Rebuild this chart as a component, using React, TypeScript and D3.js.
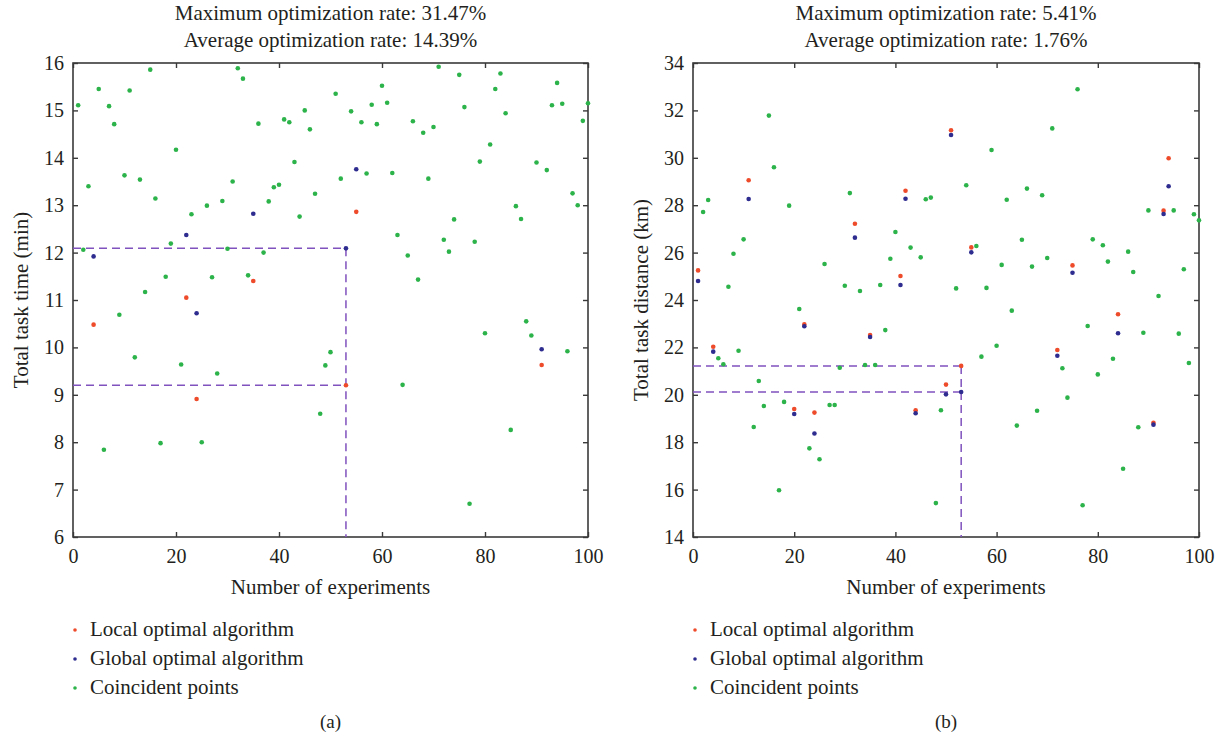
import { useEffect, useRef } from 'react';
import * as d3 from 'd3';

// experiment index 1..100, local optimal algorithm values
const timeLocal = [
  15.11, 12.06, 13.40, 10.48, 15.45, 7.84, 15.09, 14.71, 10.69, 13.63,
  15.42, 9.79, 13.54, 11.17, 15.86, 13.14, 7.98, 11.49, 12.19, 14.17,
  9.64, 11.05, 12.81, 8.91, 8.00, 12.99, 11.48, 9.45, 13.09, 12.08,
  13.50, 15.89, 15.67, 11.52, 11.40, 14.72, 12.00, 13.08, 13.38, 13.43,
  14.81, 14.75, 13.91, 12.76, 15.00, 14.60, 13.24, 8.60, 9.62, 9.90,
  15.35, 13.56, 9.20, 14.98, 12.86, 14.75, 13.67, 15.12, 14.71, 15.52,
  15.16, 13.68, 12.37, 9.21, 11.94, 14.77, 11.43, 14.53, 13.56, 14.65,
  15.92, 12.27, 12.02, 12.70, 15.75, 15.07, 6.70, 12.23, 13.92, 10.30,
  14.28, 15.45, 15.78, 14.94, 8.26, 12.98, 12.71, 10.55, 10.25, 13.90,
  9.63, 13.74, 15.11, 15.58, 15.14, 9.92, 13.25, 13.00, 14.78, 15.15,
];
// [experiment, value] where the global optimal algorithm differs
const timeGlobalDiff = [
  [4, 11.92], [22, 12.37], [24, 10.72], [35, 12.82], [53, 12.09], [55, 13.76], [91, 9.96],
];

const distLocal = [
  25.25, 27.71, 28.22, 22.03, 21.54, 21.29, 24.56, 25.95, 21.86, 26.56,
  29.05, 18.64, 20.58, 19.53, 31.78, 29.60, 15.97, 19.70, 27.98, 19.40,
  23.62, 22.97, 17.74, 19.25, 17.28, 25.52, 19.57, 19.57, 21.14, 24.60,
  28.51, 27.22, 24.38, 21.26, 22.52, 21.26, 24.63, 22.73, 25.74, 26.87,
  25.01, 28.61, 26.21, 19.35, 25.80, 28.25, 28.32, 15.43, 19.35, 20.43,
  31.16, 24.49, 21.22, 28.84, 26.22, 26.28, 21.61, 24.51, 30.33, 22.07,
  25.48, 28.23, 23.55, 18.70, 26.54, 28.70, 25.41, 19.33, 28.42, 25.77,
  31.24, 21.89, 21.12, 19.88, 25.46, 32.89, 15.34, 22.90, 26.56, 20.86,
  26.31, 25.62, 21.52, 23.40, 16.88, 26.04, 25.18, 18.63, 22.62, 27.78,
  18.82, 24.17, 27.77, 29.98, 27.78, 22.58, 25.30, 21.34, 27.62, 27.36,
];
const distGlobalDiff = [
  [1, 24.80], [4, 21.82], [11, 28.26], [20, 19.19], [22, 22.89], [24, 18.37], [32, 26.63],
  [35, 22.44], [41, 24.63], [42, 28.27], [44, 19.22], [50, 20.02], [51, 30.96], [53, 20.12],
  [55, 26.01], [72, 21.65], [75, 25.15], [84, 22.60], [91, 18.74], [93, 27.63], [94, 28.80],
];

const legendLabels = ['Local optimal algorithm', 'Global optimal algorithm', 'Coincident points'];
const legendColors = ['#ee4b2b', '#2e2c8f', '#2cb34a'];

const markedExperiment = 53;

const panels = [
  {
    left: 73, right: 588, yDomain: [6, 16], yTicks: d3.range(6, 17, 1),
    local: timeLocal, globalDiff: timeGlobalDiff,
    yLabel: 'Total task time (min)',
    title: ['Maximum optimization rate: 31.47%', 'Average optimization rate: 14.39%'],
    caption: '(a)',
  },
  {
    left: 693, right: 1199, yDomain: [14, 34], yTicks: d3.range(14, 35, 2),
    local: distLocal, globalDiff: distGlobalDiff,
    yLabel: 'Total task distance (km)',
    title: ['Maximum optimization rate: 5.41%', 'Average optimization rate: 1.76%'],
    caption: '(b)',
  },
];

const FONT = '"Liberation Serif", "Times New Roman", serif';
const INK = '#231f20';
const AXIS = '#3a3a3a';

const App = () => {
  const svgRef = useRef(null);

  useEffect(() => {
    const width = 1227;
    const height = 741;
    const top = 63;
    const bottom = 537;

    const svg = d3.select(svgRef.current);
    svg.selectAll('*').remove();
    svg.attr('width', width).attr('height', height)
      .style('font-family', FONT);

    svg.append('rect').attr('width', width).attr('height', height).attr('fill', '#fff');

    panels.forEach(p => {
      const x = d3.scaleLinear().domain([0, 100]).range([p.left, p.right]);
      const y = d3.scaleLinear().domain(p.yDomain).range([bottom, top]);
      const cx = (p.left + p.right) / 2;
      const g = svg.append('g');

      // axes: labelled bottom/left, bare ticks top/right, ticks pointing inward
      const styleAxis = sel => {
        sel.select('.domain').remove();
        sel.selectAll('line').attr('stroke', AXIS).attr('stroke-width', 1.4);
        sel.selectAll('text').attr('fill', INK).style('font-family', FONT).attr('font-size', 20);
      };
      g.append('g').attr('transform', `translate(0,${bottom})`)
        .call(d3.axisBottom(x).tickValues(d3.range(0, 101, 20)).tickSizeInner(-5).tickSizeOuter(0).tickPadding(12))
        .call(styleAxis);
      g.append('g').attr('transform', `translate(0,${top})`)
        .call(d3.axisTop(x).tickValues(d3.range(0, 101, 20)).tickSizeInner(-5).tickSizeOuter(0).tickFormat(() => ''))
        .call(styleAxis);
      g.append('g').attr('transform', `translate(${p.left},0)`)
        .call(d3.axisLeft(y).tickValues(p.yTicks).tickSizeInner(-5).tickSizeOuter(0).tickPadding(9))
        .call(styleAxis);
      g.append('g').attr('transform', `translate(${p.right},0)`)
        .call(d3.axisRight(y).tickValues(p.yTicks).tickSizeInner(-5).tickSizeOuter(0).tickFormat(() => ''))
        .call(styleAxis);

      g.append('rect')
        .attr('x', p.left).attr('y', top)
        .attr('width', p.right - p.left).attr('height', bottom - top)
        .attr('fill', 'none').attr('stroke', AXIS).attr('stroke-width', 1.6);

      // dashed guides at the marked experiment
      const i = markedExperiment;
      const vLocal = p.local[i - 1];
      const vGlobal = p.globalDiff.find(d => d[0] === i)[1];
      const guide = g.append('g')
        .attr('stroke', '#8052bd').attr('stroke-width', 1.5)
        .attr('stroke-dasharray', '8,5').attr('fill', 'none');
      [vLocal, vGlobal].forEach(v => {
        guide.append('line')
          .attr('x1', x(0)).attr('x2', x(i)).attr('y1', y(v)).attr('y2', y(v));
      });
      guide.append('line')
        .attr('x1', x(i)).attr('x2', x(i))
        .attr('y1', y(Math.max(vLocal, vGlobal))).attr('y2', bottom);

      // points
      const diffIdx = new Set(p.globalDiff.map(d => d[0]));
      const coincident = p.local.map((v, k) => [k + 1, v]).filter(d => !diffIdx.has(d[0]));
      const localOnly = p.local.map((v, k) => [k + 1, v]).filter(d => diffIdx.has(d[0]));

      const dots = (data, color) => g.append('g').selectAll('circle')
        .data(data).join('circle')
        .attr('cx', d => x(d[0])).attr('cy', d => y(d[1]))
        .attr('r', 2.3).attr('fill', color);
      dots(coincident, legendColors[2]);
      dots(localOnly, legendColors[0]);
      dots(p.globalDiff, legendColors[1]);

      // titles and labels
      g.append('text').attr('x', cx).attr('y', 20).attr('text-anchor', 'middle')
        .attr('font-size', 21).attr('fill', INK).text(p.title[0]);
      g.append('text').attr('x', cx).attr('y', 47).attr('text-anchor', 'middle')
        .attr('font-size', 21).attr('fill', INK).text(p.title[1]);

      g.append('text').attr('x', cx).attr('y', 594).attr('text-anchor', 'middle')
        .attr('font-size', 21).attr('fill', INK).text('Number of experiments');

      g.append('text')
        .attr('transform', `translate(${p.left - 45},${(top + bottom) / 2}) rotate(-90)`)
        .attr('text-anchor', 'middle').attr('font-size', 21).attr('fill', INK)
        .text(p.yLabel);

      const legend = g.append('g');
      legendLabels.forEach((label, k) => {
        const base = 636 + k * 29;
        legend.append('circle').attr('cx', p.left + 2).attr('cy', base - 6)
          .attr('r', 1.8).attr('fill', legendColors[k]);
        legend.append('text').attr('x', p.left + 17).attr('y', base)
          .attr('font-size', 21).attr('fill', INK).text(label);
      });

      g.append('text').attr('x', cx).attr('y', 728).attr('text-anchor', 'middle')
        .attr('font-size', 19).attr('fill', INK).text(p.caption);
    });
  }, []);

  return <svg ref={svgRef} style={{ position: 'absolute', left: 0, top: 0 }}></svg>;
};

export default App;
